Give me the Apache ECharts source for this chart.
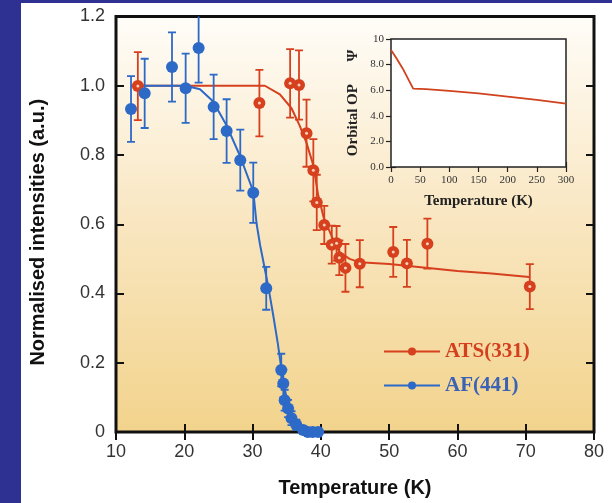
<!DOCTYPE html>
<html>
<head>
<meta charset="utf-8">
<script src="https://cdn.jsdelivr.net/npm/echarts@6/dist/echarts.min.js"></script>
<style>
html,body{margin:0;padding:0;background:#fff;}
#chart{width:612px;height:503px;}
</style>
</head>
<body>
<div id="chart"></div>
<script>
// ATS(331) measured points
var atsT   = [13.2, 31.0, 35.5, 36.8, 37.9, 38.9, 39.4, 40.5, 41.6, 42.3, 42.7, 43.6, 45.7, 50.6, 52.6, 55.6, 70.6];
var atsI   = [0.999, 0.95, 1.007, 1.002, 0.863, 0.756, 0.663, 0.598, 0.541, 0.545, 0.503, 0.474, 0.486, 0.52, 0.487, 0.544, 0.42];
var atsErr = [0.098, 0.096, 0.099, 0.1, 0.097, 0.09, 0.08, 0.055, 0.055, 0.05, 0.05, 0.069, 0.068, 0.072, 0.068, 0.072, 0.065];
// ATS(331) fit curve
var atsFitT = [13.2, 31.8, 34.0, 35.7, 36.9, 37.9, 38.9, 39.6, 40.4, 41.6, 42.7, 44.2, 45.7, 50, 55, 60, 65, 70.5];
var atsFitI = [1.0, 1.0, 0.975, 0.935, 0.885, 0.835, 0.77, 0.685, 0.62, 0.565, 0.52, 0.5, 0.49, 0.485, 0.475, 0.465, 0.458, 0.448];

// AF(441) measured points
var afT   = [12.2, 14.2, 18.2, 20.2, 22.1, 24.3, 26.2, 28.2, 30.1, 32.0, 34.2, 34.5, 34.7, 35.2, 35.7, 36.4, 37.4, 38.1, 38.8, 39.6];
var afI   = [0.933, 0.978, 1.054, 0.993, 1.109, 0.939, 0.869, 0.785, 0.691, 0.415, 0.179, 0.14, 0.092, 0.068, 0.04, 0.021, 0.006, 0, 0, 0];
var afErr = [0.095, 0.1, 0.1, 0.1, 0.1, 0.093, 0.092, 0.088, 0.087, 0.062, 0.047, 0.04, 0.03, 0.025, 0.02, 0.015, 0.01, 0, 0, 0];
// AF(441) fit curve
var afFitT = [12.2, 20.2, 22.3, 24.2, 26.2, 28.1, 30.1, 30.6, 31.1, 31.8, 32.3, 33.0, 33.7, 34.2, 34.7, 35.2, 35.9, 36.9, 37.9, 39.6];
var afFitI = [1.0, 1.0, 0.99, 0.955, 0.885, 0.8, 0.695, 0.6, 0.54, 0.47, 0.42, 0.34, 0.255, 0.185, 0.125, 0.08, 0.045, 0.02, 0.01, 0.005];

// inset: orbital order parameter
var insetT   = [0, 8, 20, 38, 60, 100, 150, 200, 250, 300];
var insetPsi = [9.15, 8.6, 7.7, 6.12, 6.08, 5.95, 5.75, 5.5, 5.25, 4.95];

var red = '#d6401e', blue = '#2d69c6';

function pairs(xs, ys) {
    return xs.map(function (x, i) { return [x, ys[i]]; });
}
function bars(xs, ys, es) {
    return xs.map(function (x, i) { return [x, ys[i] - es[i], ys[i] + es[i]]; });
}
function errorBar(color) {
    return function (params, api) {
        var x = api.value(0);
        var top = api.coord([x, api.value(2)]);
        var bot = api.coord([x, api.value(1)]);
        var w = 4;
        var st = {stroke: color, lineWidth: 1.8};
        return {
            type: 'group',
            children: [
                {type: 'line', shape: {x1: top[0], y1: top[1], x2: bot[0], y2: bot[1]}, style: st},
                {type: 'line', shape: {x1: top[0] - w, y1: top[1], x2: top[0] + w, y2: top[1]}, style: st},
                {type: 'line', shape: {x1: bot[0] - w, y1: bot[1], x2: bot[0] + w, y2: bot[1]}, style: st}
            ]
        };
    };
}

var sans = 'Liberation Sans';
var serif = 'Liberation Serif';
var tickMain = {show: true, inside: true, length: 8, lineStyle: {color: '#111', width: 2}};
var tickInset = {show: true, inside: true, length: 5, lineStyle: {color: '#222', width: 1.2}};

var myChart = echarts.init(document.getElementById('chart'));
myChart.setOption({
    animation: false,
    backgroundColor: '#fff',
    graphic: [
        {type: 'rect', shape: {x: 0, y: 0, width: 21, height: 503}, style: {fill: '#2e3092'}, z: -10},
        {type: 'rect', shape: {x: 0, y: 0, width: 612, height: 3}, style: {fill: '#2e3092'}, z: -10}
    ],
    grid: [
        {
            left: 116, right: 18, top: 16.5, bottom: 67.5, show: true,
            backgroundColor: {
                type: 'linear', x: 0, y: 0, x2: 0, y2: 1,
                colorStops: [{offset: 0, color: '#fffdf9'}, {offset: 0.5, color: '#f9e6c0'}, {offset: 1, color: '#f2d38c'}]
            },
            borderColor: '#111', borderWidth: 3
        },
        {left: 391, top: 39, width: 175, height: 128, show: true, backgroundColor: '#fff', borderColor: '#222', borderWidth: 1.5, z: 5}
    ],
    legend: {
        left: 378, top: 336, orient: 'vertical', itemGap: 13, itemWidth: 56, itemHeight: 10,
        selectedMode: false,
        textStyle: {fontFamily: serif, fontWeight: 'bold', fontSize: 21},
        data: [
            {name: 'ATS(331)', textStyle: {color: '#d4401d'}},
            {name: 'AF(441)', textStyle: {color: '#3a62b5'}}
        ]
    },
    xAxis: [
        {
            gridIndex: 0, type: 'value', min: 10, max: 80, interval: 10,
            name: 'Temperature (K)', nameLocation: 'middle', nameGap: 46,
            nameTextStyle: {fontFamily: sans, fontWeight: 'bold', fontSize: 20, color: '#111'},
            axisLine: {show: false}, axisTick: tickMain, splitLine: {show: false},
            axisLabel: {fontFamily: sans, fontSize: 18, color: '#333', margin: 11}
        },
        {
            gridIndex: 0, type: 'value', position: 'top', min: 10, max: 80, interval: 10,
            axisLine: {show: false}, axisTick: tickMain, splitLine: {show: false}, axisLabel: {show: false}
        },
        {
            gridIndex: 1, type: 'value', min: 0, max: 300, interval: 50,
            name: 'Temperature (K)', nameLocation: 'middle', nameGap: 27,
            nameTextStyle: {fontFamily: serif, fontWeight: 'bold', fontSize: 15, color: '#222'},
            axisLine: {show: false}, axisTick: tickInset, splitLine: {show: false},
            axisLabel: {fontFamily: serif, fontSize: 11, color: '#333', margin: 8}
        },
        {
            gridIndex: 1, type: 'value', position: 'top', min: 0, max: 300, interval: 50,
            axisLine: {show: false}, axisTick: tickInset, splitLine: {show: false}, axisLabel: {show: false}
        }
    ],
    yAxis: [
        {
            gridIndex: 0, type: 'value', min: 0, max: 1.2, interval: 0.2,
            name: 'Normalised intensities (a.u.)', nameLocation: 'middle', nameGap: 68,
            nameTextStyle: {fontFamily: sans, fontWeight: 'bold', fontSize: 20, color: '#111', padding: [0, 16, 0, 0]},
            axisLine: {show: false}, axisTick: tickMain, splitLine: {show: false},
            axisLabel: {
                fontFamily: sans, fontSize: 18, color: '#333', margin: 11,
                formatter: function (v) { return v === 0 ? '0' : v.toFixed(1); }
            }
        },
        {
            gridIndex: 0, type: 'value', position: 'right', min: 0, max: 1.2, interval: 0.2,
            axisLine: {show: false}, axisTick: tickMain, splitLine: {show: false}, axisLabel: {show: false}
        },
        {
            gridIndex: 1, type: 'value', min: 0, max: 10, interval: 2,
            name: 'Orbital OP      \u03A8', nameLocation: 'middle', nameGap: 30,
            nameTextStyle: {fontFamily: serif, fontWeight: 'bold', fontSize: 15, color: '#222'},
            axisLine: {show: false}, axisTick: tickInset, splitLine: {show: false},
            axisLabel: {
                fontFamily: serif, fontSize: 11, color: '#333', margin: 7,
                formatter: function (v) { return v === 10 ? '10' : v.toFixed(1); }
            }
        },
        {
            gridIndex: 1, type: 'value', position: 'right', min: 0, max: 10, interval: 2,
            axisLine: {show: false}, axisTick: tickInset, splitLine: {show: false}, axisLabel: {show: false}
        }
    ],
    series: [
        {
            name: 'ATS(331)', type: 'line', xAxisIndex: 0, yAxisIndex: 0,
            data: pairs(atsFitT, atsFitI), showSymbol: false, symbol: 'circle', symbolSize: 11,
            lineStyle: {color: red, width: 2}, itemStyle: {color: red}, z: 2
        },
        {
            name: 'AF(441)', type: 'line', xAxisIndex: 0, yAxisIndex: 0,
            data: pairs(afFitT, afFitI), showSymbol: false, symbol: 'circle', symbolSize: 11,
            lineStyle: {color: blue, width: 2}, itemStyle: {color: blue}, z: 2
        },
        {
            type: 'custom', xAxisIndex: 0, yAxisIndex: 0, clip: true,
            data: bars(atsT, atsI, atsErr), renderItem: errorBar(red), z: 3
        },
        {
            type: 'custom', xAxisIndex: 0, yAxisIndex: 0, clip: true,
            data: bars(afT, afI, afErr), renderItem: errorBar(blue), z: 3
        },
        {
            type: 'scatter', xAxisIndex: 0, yAxisIndex: 0, clip: false,
            data: pairs(atsT, atsI), symbolSize: 12, itemStyle: {color: red, opacity: 1}, z: 4
        },
        {
            type: 'scatter', xAxisIndex: 0, yAxisIndex: 0, clip: false,
            data: pairs(atsT, atsI), symbolSize: 3, itemStyle: {color: '#f7d2b8', opacity: 1}, z: 5
        },
        {
            type: 'scatter', xAxisIndex: 0, yAxisIndex: 0, clip: false,
            data: pairs(afT, afI), symbolSize: 12, itemStyle: {color: blue, opacity: 1}, z: 4
        },
        {
            type: 'line', xAxisIndex: 2, yAxisIndex: 2,
            data: pairs(insetT, insetPsi), showSymbol: false,
            lineStyle: {color: '#d0421e', width: 1.8}, z: 6
        }
    ]
});
</script>
</body>
</html>
